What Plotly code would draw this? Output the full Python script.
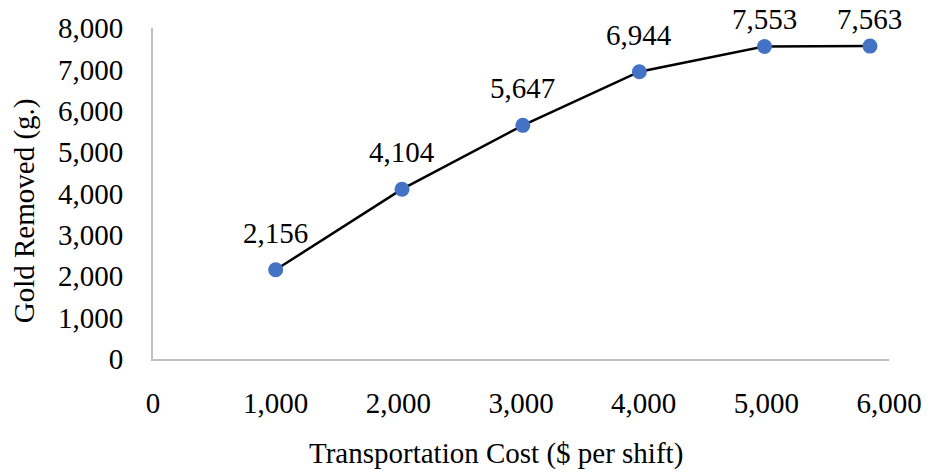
import plotly.graph_objects as go

# Transportation cost per shift vs. gold removed
cost = [1000, 2030, 3015, 3965, 4985, 5845]
gold = [2156, 4104, 5647, 6944, 7553, 7563]

x_ticks = [0, 1000, 2000, 3000, 4000, 5000, 6000]
y_ticks = [0, 1000, 2000, 3000, 4000, 5000, 6000, 7000, 8000]

FONT = "Liberation Serif, Times New Roman, serif"
SIZE = 29
AXIS_GRAY = "#BFBFBF"

W, H = 934, 475
M_L, M_R, M_T, M_B = 153, 36, 25, 116
Y_MAX = 8000
plot_h = H - M_T - M_B

fig = go.Figure()
fig.add_trace(go.Scatter(
    x=cost,
    y=gold,
    mode="lines+markers",
    line=dict(color="black", width=2.5),
    marker=dict(color="#4472C4", size=15),
    cliponaxis=False,
    showlegend=False,
))

# value labels above each point, held inside the top edge of the figure
for cx, gy in zip(cost, gold):
    py = M_T + plot_h * (1 - gy / Y_MAX)
    baseline = max(py - 25, 28)
    fig.add_annotation(
        x=cx, y=gy,
        text=f"{gy:,}",
        showarrow=False,
        xanchor="center", yanchor="bottom",
        yshift=py - baseline - 6,
        font=dict(family=FONT, size=SIZE, color="black"),
    )

fig.update_xaxes(
    range=[0, 6000],
    tickvals=x_ticks,
    ticktext=[f"{v:,}" for v in x_ticks],
    showgrid=False,
    zeroline=False,
    showline=True,
    linecolor=AXIS_GRAY,
    linewidth=2,
    ticks="",
    ticklabelstandoff=17,
    tickfont=dict(family=FONT, size=SIZE, color="black"),
)
fig.update_yaxes(
    range=[0, Y_MAX],
    tickvals=y_ticks,
    ticktext=[f"{v:,}" for v in y_ticks],
    showgrid=False,
    zeroline=False,
    showline=True,
    linecolor=AXIS_GRAY,
    linewidth=2,
    ticks="",
    ticklabelstandoff=22,
    tickfont=dict(family=FONT, size=SIZE, color="black"),
)

fig.add_annotation(
    text="Transportation Cost ($ per shift)",
    xref="paper", yref="paper",
    x=0.466, y=-0.285,
    xanchor="center", yanchor="middle",
    showarrow=False,
    font=dict(family=FONT, size=SIZE, color="black"),
)
fig.add_annotation(
    text="Gold Removed (g.)",
    xref="paper", yref="paper",
    x=-0.175, y=0.447,
    xanchor="center", yanchor="middle",
    textangle=-90,
    showarrow=False,
    font=dict(family=FONT, size=SIZE, color="black"),
)

fig.update_layout(
    width=W,
    height=H,
    margin=dict(l=M_L, r=M_R, t=M_T, b=M_B),
    plot_bgcolor="white",
    paper_bgcolor="white",
)

fig.write_html("out.html")
